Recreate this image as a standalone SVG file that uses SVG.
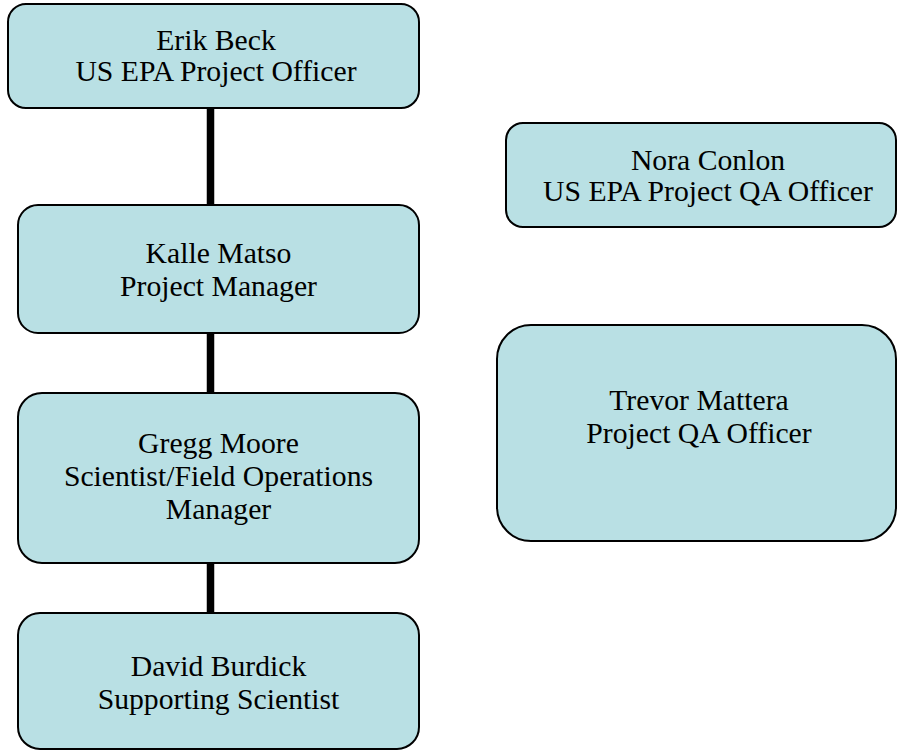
<svg xmlns="http://www.w3.org/2000/svg" width="898" height="751" viewBox="0 0 898 751">
<style>
.box{fill:#B9E0E4;stroke:#000;stroke-width:2}
.t{font-family:"Liberation Serif","Times New Roman",serif;font-size:29.7px;fill:#000;text-anchor:middle}
.conn{stroke:#000;stroke-width:7.5;fill:none}
</style>
<rect width="898" height="751" fill="#fff"/>
<g id="connectors">
<line class="conn" x1="210.5" y1="108" x2="210.5" y2="205"/>
<line class="conn" x1="210.5" y1="333" x2="210.5" y2="393"/>
<line class="conn" x1="210.5" y1="563" x2="210.5" y2="613"/>
</g>
<g id="erik">
<rect class="box" x="8" y="4" width="411" height="104" rx="18"/>
<text class="t" x="216" y="50">Erik Beck</text>
<text class="t" x="216" y="81">US EPA Project Officer</text>
</g>
<g id="kalle">
<rect class="box" x="18" y="205" width="401" height="128" rx="20"/>
<text class="t" x="218.5" y="263">Kalle Matso</text>
<text class="t" x="218.5" y="296">Project Manager</text>
</g>
<g id="gregg">
<rect class="box" x="18" y="393" width="401" height="170" rx="24"/>
<text class="t" x="218.5" y="453">Gregg Moore</text>
<text class="t" x="218.5" y="486">Scientist/Field Operations</text>
<text class="t" x="218.5" y="519">Manager</text>
</g>
<g id="david">
<rect class="box" x="18" y="613" width="401" height="136" rx="22"/>
<text class="t" x="218.5" y="676">David Burdick</text>
<text class="t" x="218.5" y="709">Supporting Scientist</text>
</g>
<g id="nora">
<rect class="box" x="506" y="123" width="390" height="104" rx="17"/>
<text class="t" x="708" y="170">Nora Conlon</text>
<text class="t" x="708" y="201">US EPA Project QA Officer</text>
</g>
<g id="trevor">
<rect class="box" x="497" y="325" width="399" height="216" rx="34"/>
<text class="t" x="699" y="410">Trevor Mattera</text>
<text class="t" x="699" y="443">Project QA Officer</text>
</g>
</svg>
